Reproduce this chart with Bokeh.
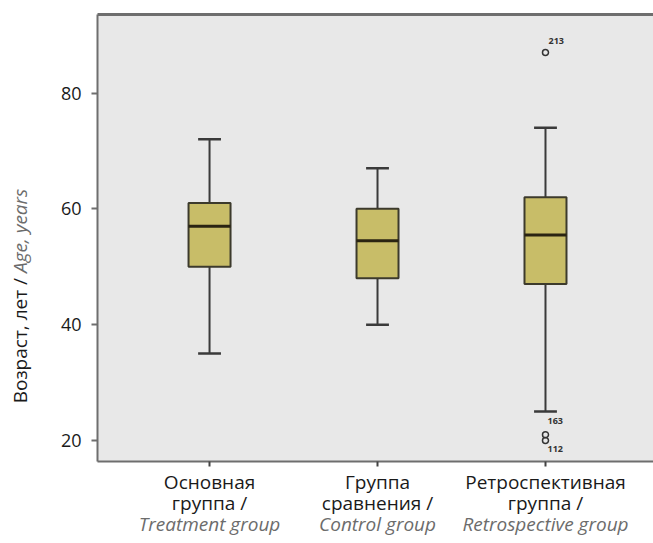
from bokeh.plotting import figure
from bokeh.models import Range1d, FixedTicker, Label, ColumnDataSource, LinearAxis, Div
from bokeh.layouts import row
from bokeh.embed import file_html
from bokeh.resources import INLINE

# ---- data ----
groups_ru_1 = ["Основная", "Группа", "Ретроспективная"]
groups_ru_2 = ["группа /", "сравнения /", "группа /"]
groups_en = ["Treatment group", "Control group", "Retrospective group"]
xpos = [1, 2, 3]
whisker_low = [35, 40, 25]
q1 = [50, 48, 47]
median = [57, 54.5, 55.5]
q3 = [61, 60, 62]
whisker_high = [72, 67, 74]
outlier_group = [3, 3, 3]
outlier_value = [87, 21, 20]
outlier_label = ["213", "163", "112"]
y_ticks = [20, 40, 60, 80]
y_title_ru = "Возраст, лет /"
y_title_en = "Age, years"

FONT = "Open Sans"
BOX_W = 0.25
CAP_W = 0.068
AX = "#6e6e6e"

p = figure(width=613, height=543, output_backend="svg", toolbar_location=None,
           x_range=Range1d(0.333, 3.643), y_range=Range1d(16.37, 93.56),
           min_border_left=57, min_border_top=14, min_border_right=0, min_border_bottom=82)
p.background_fill_color = "#e8e8e8"
p.border_fill_color = "white"
p.outline_line_color = None
p.grid.visible = False

# y axis
p.yaxis.ticker = FixedTicker(ticks=y_ticks)
p.yaxis.minor_tick_line_color = None
p.yaxis.major_tick_in = 0
p.yaxis.major_tick_out = 6
p.yaxis.major_tick_line_color = AX
p.yaxis.major_tick_line_width = 2
p.yaxis.axis_line_color = AX
p.yaxis.axis_line_width = 2
p.yaxis.major_label_text_font = FONT
p.yaxis.major_label_text_font_size = "18px"
p.yaxis.major_label_text_color = "#1a1a1a"
p.yaxis.major_label_standoff = 10

# x axis: three stacked axes, one per label line
xa = p.below[0]
xa.ticker = FixedTicker(ticks=xpos)
xa.minor_tick_line_color = None
xa.major_tick_in = 0
xa.major_tick_out = 5
xa.major_tick_line_color = "#444444"
xa.major_tick_line_width = 2
xa.axis_line_color = AX
xa.axis_line_width = 2
xa.major_label_overrides = {x: t for x, t in zip(xpos, groups_ru_1)}
xa.major_label_text_font = FONT
xa.major_label_text_font_size = "19px"
xa.major_label_text_color = "#1a1a1a"
xa.major_label_standoff = 2

for labels, col, style in ((groups_ru_2, "#1a1a1a", "normal"), (groups_en, "#6c6c6c", "italic")):
    ax = LinearAxis(ticker=FixedTicker(ticks=xpos),
                    major_label_overrides={x: t for x, t in zip(xpos, labels)},
                    axis_line_color=None, major_tick_line_color=None, minor_tick_line_color=None,
                    major_label_text_font=FONT, major_label_text_font_size="19px",
                    major_label_text_color=col, major_label_text_font_style=style,
                    major_label_standoff=-14)
    p.add_layout(ax, "below")

# top border line
top = LinearAxis(ticker=FixedTicker(ticks=[]), axis_line_color=AX, axis_line_width=3,
                 major_tick_line_color=None, minor_tick_line_color=None)
p.add_layout(top, "above")

src = ColumnDataSource(dict(x=xpos, lo=whisker_low, q1=q1, med=median, q3=q3, hi=whisker_high,
                            bl=[x - BOX_W / 2 for x in xpos], br=[x + BOX_W / 2 for x in xpos],
                            cl=[x - CAP_W for x in xpos], cr=[x + CAP_W for x in xpos]))

# whiskers
p.segment(x0="x", y0="q3", x1="x", y1="hi", source=src, line_color="#3a3a3a", line_width=2)
p.segment(x0="x", y0="lo", x1="x", y1="q1", source=src, line_color="#3a3a3a", line_width=2)
p.segment(x0="cl", y0="hi", x1="cr", y1="hi", source=src, line_color="#3a3a3a", line_width=2.5)
p.segment(x0="cl", y0="lo", x1="cr", y1="lo", source=src, line_color="#3a3a3a", line_width=2.5)
# boxes
p.vbar(x="x", width=BOX_W, top="q3", bottom="q1", source=src,
       fill_color="#c8bd68", line_color="#3c3a2c", line_width=2)
p.segment(x0="bl", y0="med", x1="br", y1="med", source=src, line_color="#2a2412", line_width=3)

# outliers
p.scatter(outlier_group, outlier_value, marker="circle", size=6, fill_color=None,
          line_color="#333333", line_width=1.5)
lab_dx = [3, 2, 2]
lab_dy = [11, 14, -9]
for g, v, t, dx, dy in zip(outlier_group, outlier_value, outlier_label, lab_dx, lab_dy):
    p.add_layout(Label(x=g, y=v, text=t, x_offset=dx, y_offset=dy, text_font=FONT,
                       text_font_size="9px", text_font_style="bold", text_color="#333333",
                       text_align="left", text_baseline="middle"))

# y title as rotated HTML text (two styles)
html = (
    '<div style="position:relative;width:40px;height:543px;">'
    '<span style="position:absolute;left:21px;top:296px;white-space:nowrap;'
    "font-family:'Open Sans';font-size:19px;color:#1a1a1a;"
    'transform:translate(-50%,-50%) rotate(-90deg);">'
    f'{y_title_ru} <i style="color:#6c6c6c">{y_title_en}</i></span></div>'
)
ytitle = Div(text=html, width=40, height=543, margin=0)

layout = row(ytitle, p, spacing=0)
open("out.html", "w").write(file_html(layout, INLINE))
